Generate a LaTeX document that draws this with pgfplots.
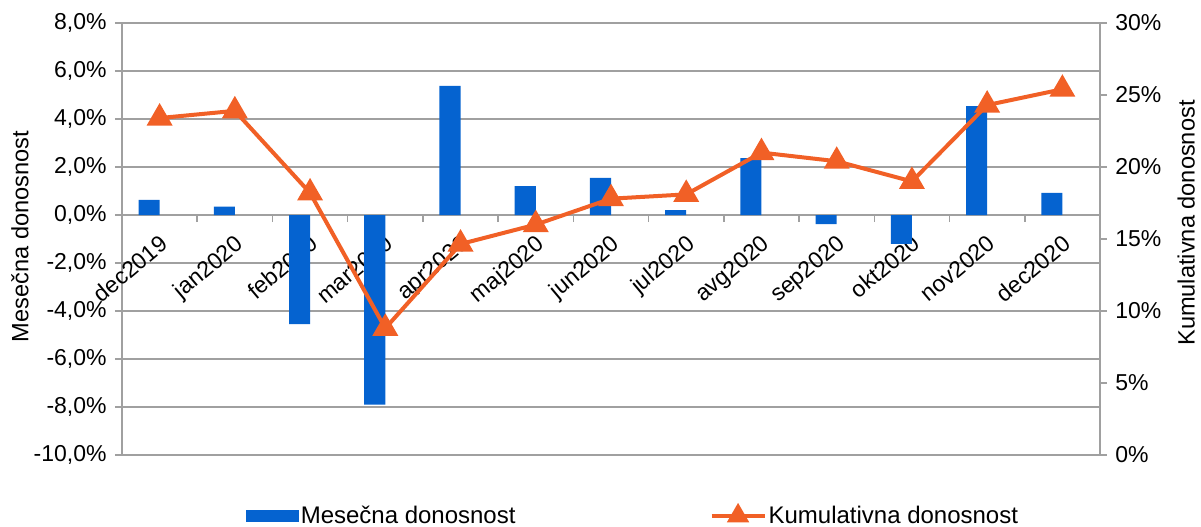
\documentclass[border=0pt]{standalone}
\usepackage{fontspec}
\setmainfont{Liberation Sans}
\usepackage{pgfplots}
\pgfplotsset{compat=1.18}
\definecolor{barblue}{RGB}{5,99,208}
\definecolor{lineorange}{RGB}{241,96,38}
\definecolor{gridgray}{RGB}{160,160,160}
\pgfplotsset{
  mylinelegend/.style={legend image code/.code={\draw[##1, mark repeat=2, mark phase=2, mark size=4.5pt] plot coordinates {(0pt,0pt) (13.25pt,0pt) (26.5pt,0pt)};}},
  mybarlegend/.style={legend image code/.code={\fill[barblue] (0pt,-2.75pt) rectangle (26pt,2.75pt);}},
}
\begin{document}
\begin{tikzpicture}[font=\fontsize{11.5}{13}\selectfont]
\useasboundingbox (-61pt,-35.5pt) rectangle (539.5pt,227.5pt);
\begin{axis}[
  scale only axis, width=489pt, height=216pt,
  at={(0pt,0pt)}, anchor=south west,
  xmin=-0.5, xmax=12.5, ymin=-10, ymax=8,
  axis x line=middle, axis y line=left,
  axis line style={-, draw=gridgray, line width=0.8pt},
  tick align=outside,
  ytick={-10,-8,...,8},
  yticklabels={{-10,0\%},{-8,0\%},{-6,0\%},{-4,0\%},{-2,0\%},{0,0\%},{2,0\%},{4,0\%},{6,0\%},{8,0\%}},
  ymajorgrids, grid style={gridgray, line width=0.8pt},
  major tick length=3.5pt, minor tick length=3.5pt,
  y tick style={gridgray, line width=0.8pt},
  xtick={0,...,12},
  xticklabels={dec2019,jan2020,feb2020,mar2020,apr2020,maj2020,jun2020,jul2020,avg2020,sep2020,okt2020,nov2020,dec2020},
  major x tick style={draw=none},
  minor xtick={-0.5,0.5,...,12.5},
  minor x tick style={gridgray, line width=0.8pt},
  xticklabel style={rotate=40, anchor=north east, inner sep=0pt, xshift=-4pt, yshift=-4pt},
  yticklabel style={inner sep=0pt, xshift=-4pt},
  every axis y label/.style={at={(axis description cs:-0.1043,0.506)}, rotate=90, anchor=center, font=\fontsize{11.8}{13}\selectfont},
  ylabel={Mesečna donosnost},
]
\addplot[ybar, bar width=0.28, bar shift=-0.14, fill=barblue, draw=none] coordinates {
 (0,0.63) (1,0.35) (2,-4.55) (3,-7.9) (4,5.38) (5,1.2) (6,1.55) (7,0.2) (8,2.37) (9,-0.38) (10,-1.2) (11,4.54) (12,0.92)
};
\end{axis}
\begin{axis}[
  scale only axis, width=489pt, height=216pt,
  at={(0pt,0pt)}, anchor=south west,
  xmin=-0.5, xmax=12.5, ymin=0, ymax=30,
  axis x line=none, axis y line*=right,
  axis line style={-, draw=gridgray, line width=0.8pt},
  tick align=outside,
  major tick length=3.5pt,
  y tick style={gridgray, line width=0.8pt},
  ytick={0,5,...,30},
  yticklabels={0\%,5\%,10\%,15\%,20\%,25\%,30\%},
  yticklabel style={inner sep=0pt, xshift=4pt},
  every axis y label/.style={at={(axis description cs:1.088,0.537)}, rotate=90, anchor=center, font=\fontsize{11.8}{13}\selectfont},
  ylabel={Kumulativna donosnost},
  legend style={at={(axis description cs:0.5225,-0.141)}, anchor=center, draw=none, fill=none,
    legend columns=2, /tikz/every even column/.append style={column sep=96pt},
    font=\fontsize{12}{13}\selectfont, inner sep=0pt,
    nodes={inner sep=1pt}},
]
\addlegendimage{mybarlegend}
\addlegendentry{Mesečna donosnost}
\addplot[lineorange, line width=2pt, mark=triangle*, mark size=5.5pt, mark options={solid}, mylinelegend]
 coordinates {
 (0,23.4) (1,23.9) (2,18.2) (3,8.8) (4,14.65) (5,16.0) (6,17.8) (7,18.1) (8,21.0) (9,20.4) (10,19.0) (11,24.3) (12,25.4)
};
\addlegendentry{Kumulativna donosnost}
\end{axis}
\end{tikzpicture}
\end{document}
